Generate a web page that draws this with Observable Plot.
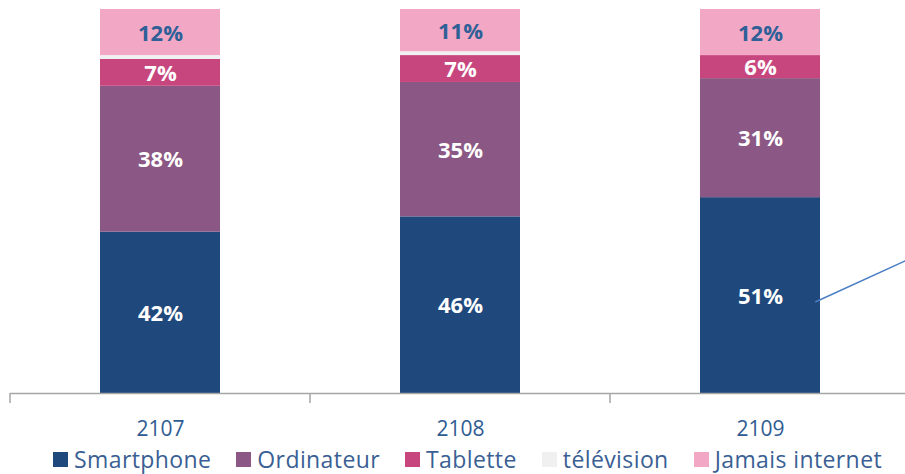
<!DOCTYPE html>
<html><head><meta charset="utf-8">
<script src="https://cdn.jsdelivr.net/npm/d3@7"></script>
<script src="https://cdn.jsdelivr.net/npm/@observablehq/plot@0.6"></script>
<style>
html,body{margin:0;padding:0;background:#fff;font-family:"Open Sans",sans-serif;overflow:hidden}
#chart svg{display:block}
#legend{display:flex;align-items:center;height:29px;line-height:29px;padding-left:53px;color:#3a5f94;font-size:23px;letter-spacing:0.4px;white-space:nowrap}
.item{display:flex;align-items:center;margin-right:25px}
.sw{width:15px;height:15px;margin-right:6px;flex:none}
</style></head><body>
<div id="chart"></div>
<div id="legend"></div>
<script>
const years = ["2107", "2108", "2109"];
const series = ["Smartphone", "Ordinateur", "Tablette", "télévision", "Jamais internet"];
const smartphone = [42, 46, 51];
const ordinateur = [38, 35, 31];
const tablette = [7, 7, 6];
const television = [1, 1, 0];
const jamais = [12, 11, 12];
const colors = ["#1f497d", "#8b5784", "#c8467e", "#f0f0f0", "#f2a8c4"];
const showLabel = [true, true, true, false, true];
const callout = [{year: "2109", yFrom: 23.7, yTo: 34.4}];

const values = [smartphone, ordinateur, tablette, television, jamais];
const rows = [];
years.forEach((year, i) => {
  let acc = 0;
  series.forEach((s, j) => {
    const v = values[j][i];
    rows.push({year, series: s, value: v, y1: acc, y2: acc + v, mid: acc + v / 2, show: showLabel[j] && v > 0, top: j === 4});
    acc += v;
  });
});

const extras = (index, scales) => {
  const x = scales.x, y = scales.y;
  const bw = x.bandwidth();
  const step = x.step ? x.step() : 300;
  const g = d3.create("svg:g");
  const y0 = y(0);
  const bounds = years.map(yr => x(yr) - (step - bw) / 2);
  bounds.push(x(years[years.length - 1]) + bw + (step - bw) / 2);
  for (const b of bounds) {
    g.append("line").attr("x1", b).attr("x2", b).attr("y1", y0).attr("y2", y0 + 10)
      .attr("stroke", "#a6a6a6").attr("stroke-width", 1.5);
  }
  for (const c of callout) {
    const x1 = x(c.year) + bw * 0.96;
    g.append("line").attr("x1", x1).attr("y1", y(c.yFrom)).attr("x2", x1 + 90).attr("y2", y(c.yTo))
      .attr("stroke", "#4a7ec5").attr("stroke-width", 1.5);
  }
  return g.node();
};

const plot = Plot.plot({
  width: 905, height: 445,
  marginLeft: 10, marginRight: 0, marginTop: 9, marginBottom: 52,
  style: {fontFamily: "Open Sans", background: "#fff"},
  x: {domain: years, range: [10, 910], paddingInner: 0.6, paddingOuter: 0.3, label: null},
  y: {domain: [0, 100], axis: null},
  color: {domain: series, range: colors},
  marks: [
    Plot.barY(rows, {x: "year", y1: "y1", y2: "y2", fill: "series"}),
    Plot.text(rows.filter(d => d.show && !d.top), {x: "year", y: "mid", dy: 1, text: d => d.value + "%", fill: "#ffffff", fontSize: 22, fontWeight: 700}),
    Plot.text(rows.filter(d => d.show && d.top), {x: "year", y: "mid", dy: 1, text: d => d.value + "%", fill: "#2e5f97", fontSize: 22, fontWeight: 700}),
    Plot.ruleY([0], {stroke: "#a6a6a6", strokeWidth: 1.5}),
    Plot.axisX({tickSize: 0, tickPadding: 28, fontSize: 21, color: "#2f5b93", fill: "#2f5b93"}),
    extras
  ]
});
document.getElementById("chart").appendChild(plot);

const legend = document.getElementById("legend");
series.forEach((s, j) => {
  const it = document.createElement("div");
  it.className = "item";
  const sw = document.createElement("div");
  sw.className = "sw";
  sw.style.background = colors[j];
  const t = document.createElement("span");
  t.textContent = s;
  it.appendChild(sw); it.appendChild(t);
  legend.appendChild(it);
});
</script>
</body></html>
